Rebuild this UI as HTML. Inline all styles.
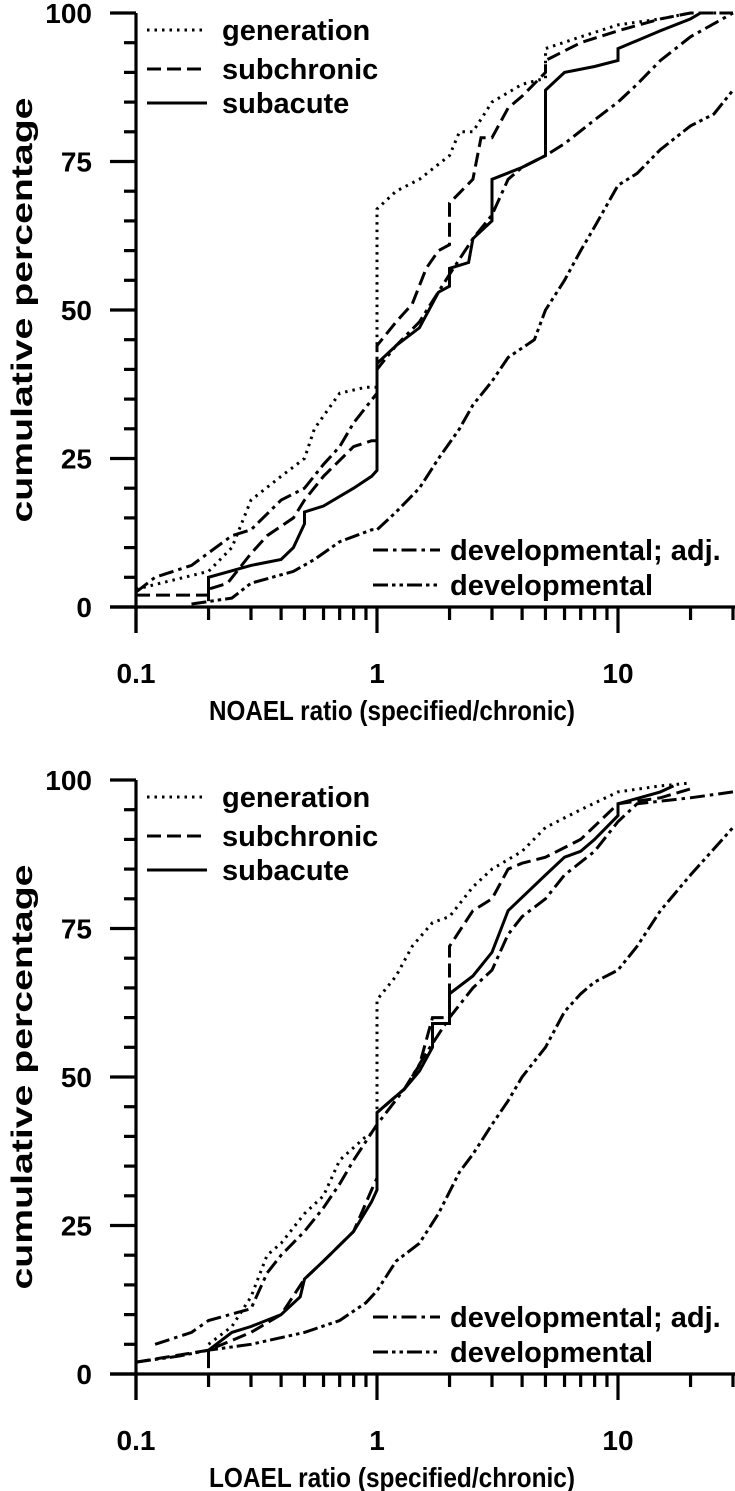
<!DOCTYPE html>
<html><head><meta charset="utf-8"><style>
html,body{margin:0;padding:0;background:#fff;}
svg{display:block;font-family:"Liberation Sans",Arial,sans-serif;font-weight:bold;}
</style></head><body>
<svg id="chart" width="735" height="1491" viewBox="0 0 735 1491" xmlns="http://www.w3.org/2000/svg"></svg>
<script>
const seriesNames = ["generation","subchronic","subacute","developmental; adj.","developmental"];
const noaelGeneration = [[0.1,3],[0.2,6],[0.25,10],[0.3,18],[0.4,22],[0.5,25],[0.55,30],[0.7,36],[0.9,37],[1,37],[1,67],[1.2,70],[1.5,72],[2,76],[2.2,80],[2.5,80],[3,85],[4,88],[5,89],[5,94],[7,96],[10,98],[15,99],[20,100],[30,100]];
const noaelSubchronic = [[0.1,2],[0.2,2],[0.2,3],[0.24,4],[0.3,9],[0.35,12],[0.45,15],[0.5,18],[0.6,22],[0.8,27],[0.95,28],[1,28],[1,44],[1.2,48],[1.4,51],[1.6,57],[1.8,60],[2,61],[2,68],[2.5,72],[2.7,79],[3,79],[3.5,84],[4,86],[5,90],[5,92],[7,95],[10,97],[15,99],[20,100],[30,100]];
const noaelSubacute = [[0.2,1],[0.2,5],[0.3,7],[0.4,8],[0.45,10],[0.5,14],[0.5,16],[0.6,17],[0.8,20],[0.95,22],[1,23],[1,41],[1.2,44],[1.5,47],[1.8,53],[2,54],[2,57],[2.4,58],[2.5,62],[3,65],[3,72],[4,74],[5,76],[5,87],[6,90],[8,91],[10,92],[10,94],[15,97],[20,99],[22,100]];
const noaelDevAdj = [[0.1,2.5],[0.12,5],[0.17,7],[0.25,12],[0.3,13],[0.4,18],[0.5,20],[0.6,24],[0.7,27],[0.8,31],[1,36],[1,40],[1.2,44],[1.5,48],[2,56],[2.5,62],[3,66],[3.5,72],[4,74],[5,76],[6,78],[8,82],[10,85],[12,88],[15,92],[20,96],[30,100]];
const noaelDev = [[0.17,0.5],[0.25,1.5],[0.3,4],[0.45,6],[0.55,8],[0.7,11],[0.95,13],[1,13],[1.2,16],[1.5,20],[1.8,25],[2.2,30],[2.5,34],[3,38],[3.5,42],[4.5,45],[5,50],[6,55],[7,60],[8,64],[10,71],[12,73],[15,77],[20,81],[25,83],[30,87]];
const loaelGeneration = [[0.2,5],[0.25,8],[0.3,13],[0.35,20],[0.4,22],[0.5,27],[0.6,30],[0.7,36],[0.9,40],[1,41],[1,63],[1.2,67],[1.4,72],[1.7,76],[2,77],[2.5,82],[3,85],[4,88],[5,92],[7,95],[10,98],[15,99],[20,99.5]];
const loaelSubchronic = [[0.1,2],[0.2,4],[0.3,7],[0.4,10],[0.5,16],[0.6,19],[0.8,24],[0.95,31],[1,33],[1,44],[1.3,48],[1.5,52],[1.7,60],[2,60],[2,72],[2.5,78],[3,80],[3.5,85],[4,86],[5,87],[7,90],[10,96],[15,97],[20,98.5]];
const loaelSubacute = [[0.2,1],[0.2,4],[0.25,7],[0.3,8],[0.4,10],[0.48,13],[0.5,16],[0.6,19],[0.8,24],[0.95,29],[1,31],[1,44],[1.3,48],[1.5,51],[1.7,55],[1.7,59],[2,59],[2,64],[2.5,67],[3,71],[3.5,78],[5,84],[6,87],[7,88],[8,90],[10,94],[10,96],[15,98],[17,99]];
const loaelDevAdj = [[0.12,5],[0.17,7],[0.2,9],[0.3,11],[0.35,17],[0.4,20],[0.5,24],[0.6,28],[0.7,32],[0.8,36],[1,42],[1.3,48],[1.6,54],[2,60],[2.5,65],[3,68],[3.5,74],[4,77],[5,80],[6,84],[8,88],[10,93],[12,96],[20,97],[30,98]];
const loaelDev = [[0.1,2],[0.15,3],[0.2,4],[0.3,5],[0.5,7],[0.7,9],[0.9,12],[1,14],[1.2,19],[1.5,22],[1.8,27],[2.2,34],[2.5,37],[3,42],[3.5,46],[4,50],[5,55],[6,61],[7,64],[8,66],[10,68],[12,72],[15,78],[20,84],[30,92]];
const yTicks = [0,25,50,75,100];
const xTickLabels = [0.1,1,10];

const NS="http://www.w3.org/2000/svg";
const svg=document.getElementById('chart');
const dashes=["2.5,5","14,6","15,5,3.5,5","15,4,3.5,4,3.5,4"];
const styles=[dashes[0],dashes[1],"",dashes[2],dashes[3]];
function mk(tag,attrs,parent){const e=document.createElementNS(NS,tag);for(const k in attrs)e.setAttribute(k,attrs[k]);(parent||svg).appendChild(e);return e;}

function drawChart(off,xTitle,series,key){
  const X0=136,DEC=241,Y0=607+off,Y100=13+off;
  const xs=v=>X0+DEC*(Math.log10(v)+1);
  const ys=p=>Y0-(Y0-Y100)*p/100;
  const g=mk('g',{});
  
  
  const cid='clip'+key;
  const cp=mk('clipPath',{id:cid},g);
  mk('rect',{x:X0,y:Y100-5,width:735-X0,height:Y0-Y100+5},cp);
  const ya=mk('line',{x1:X0,y1:Y100,x2:X0,y2:Y0+26,stroke:'#000','stroke-width':3.2},g);
  
  
  const xa=mk('line',{x1:X0-26,y1:Y0,x2:735,y2:Y0,stroke:'#000','stroke-width':3.2},g);
  
  
  for(let p=0;p<=100;p+=5){
    const major=p%25===0;
    mk('line',{x1:X0-(major?26:12),y1:ys(p),x2:X0,y2:ys(p),stroke:'#000','stroke-width':3.2},g);
  }
  yTicks.forEach(t=>{
    const tx=mk('text',{x:X0-44,y:ys(t)+10,'text-anchor':'end','font-size':28},g);
    tx.textContent=t;
    
    
  });
  for(let d=-1;d<=1;d++){for(let m=1;m<=9;m++){const v=m*Math.pow(10,d);const x=xs(v);if(x>735||x<X0)continue;
    mk('line',{x1:x,y1:Y0,x2:x,y2:Y0+(m===1?26:13),stroke:'#000','stroke-width':3.2},g);}}
  xTickLabels.forEach(t=>{
    const tx=mk('text',{x:xs(t),y:Y0+76,'text-anchor':'middle','font-size':28},g);
    tx.textContent=t;
    
    
  });
  const xt=mk('text',{x:209,y:Y0+113,'font-size':28,textLength:366,lengthAdjust:'spacingAndGlyphs'},g);
  xt.textContent=xTitle;
  
  
  const yt=mk('text',{x:0,y:0,'text-anchor':'middle','font-size':30,textLength:425,lengthAdjust:'spacingAndGlyphs',transform:`translate(32,${(Y0+Y100)/2}) rotate(-90)`},g);
  yt.textContent='cumulative percentage';
  
  
  series.forEach((s,i)=>{
    const d=s.map((pt,j)=>(j?'L':'M')+xs(pt[0]).toFixed(1)+','+ys(pt[1]).toFixed(1)).join('');
    const a={d:d,fill:'none',stroke:'#000','stroke-width':3,'clip-path':`url(#${cid})`,'stroke-linecap':'butt'};
    if(styles[i])a['stroke-dasharray']=styles[i];
    const p=mk('path',a,g);
    
    
  });
  const leg=[[0,147,207,222,Y100+27],[1,147,207,222,Y100+66],[2,147,207,222,Y100+100],[3,373,440,450,off+560],[4,373,440,450,off+595]];
  leg.forEach(l=>{
    const i=l[0];
    const a={x1:l[1],y1:l[4]-10,x2:l[2],y2:l[4]-10,stroke:'#000','stroke-width':3};
    if(styles[i])a['stroke-dasharray']=styles[i];
    const ln=mk('line',a,g);
    
    
    const tx=mk('text',{x:l[3],y:l[4],'font-size':29},g);
    tx.textContent=seriesNames[i];
    
    
  });
}
drawChart(0,'NOAEL ratio (specified/chronic)',[noaelGeneration,noaelSubchronic,noaelSubacute,noaelDevAdj,noaelDev],'noael');
drawChart(767,'LOAEL ratio (specified/chronic)',[loaelGeneration,loaelSubchronic,loaelSubacute,loaelDevAdj,loaelDev],'loael');
</script>
</body></html>
